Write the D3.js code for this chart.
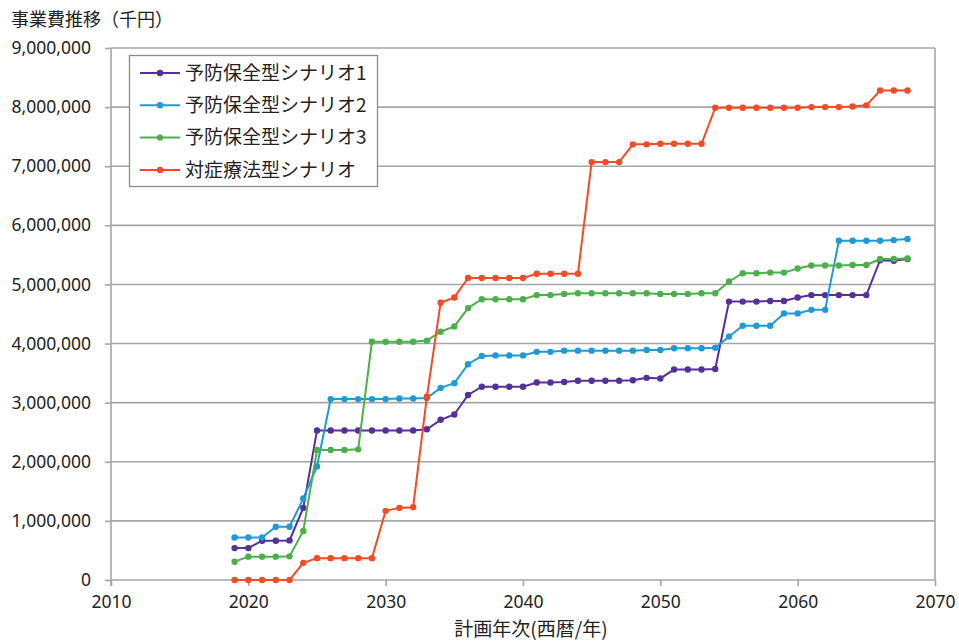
<!DOCTYPE html>
<html>
<head>
<meta charset="utf-8">
<script src="https://cdn.jsdelivr.net/npm/d3@7"></script>
<style>
  html, body { margin: 0; padding: 0; background: #fff; }
  svg { display: block; font-family: "Noto Sans CJK JP", "Noto Sans", sans-serif; }
</style>
</head>
<body>
<svg id="chart" width="959" height="643"></svg>
<script>
// Planning years 2019–2068
const years = d3.range(2019, 2069);

// Annual project cost (thousand yen) per scenario
const scenario1 = [
  540000, 540000, 665000, 665000, 670000, 1220000, 2530000, 2530000, 2530000, 2530000,
  2530000, 2530000, 2530000, 2530000, 2550000, 2710000, 2800000, 3130000, 3270000, 3270000,
  3270000, 3270000, 3340000, 3340000, 3350000, 3370000, 3370000, 3370000, 3370000, 3380000,
  3420000, 3410000, 3560000, 3560000, 3560000, 3570000, 4710000, 4710000, 4710000, 4720000,
  4720000, 4780000, 4820000, 4820000, 4820000, 4820000, 4820000, 5410000, 5400000, 5430000
];
const scenario2 = [
  720000, 720000, 720000, 900000, 900000, 1380000, 1920000, 3060000, 3060000, 3060000,
  3060000, 3060000, 3070000, 3070000, 3080000, 3250000, 3330000, 3650000, 3790000, 3800000,
  3800000, 3800000, 3860000, 3860000, 3880000, 3880000, 3880000, 3880000, 3880000, 3880000,
  3890000, 3890000, 3920000, 3920000, 3920000, 3930000, 4120000, 4300000, 4300000, 4300000,
  4510000, 4510000, 4570000, 4570000, 5740000, 5740000, 5740000, 5740000, 5750000, 5770000
];
const scenario3 = [
  310000, 395000, 395000, 395000, 400000, 830000, 2200000, 2200000, 2200000, 2210000,
  4030000, 4030000, 4030000, 4030000, 4050000, 4200000, 4290000, 4600000, 4750000, 4750000,
  4750000, 4750000, 4820000, 4820000, 4840000, 4850000, 4850000, 4850000, 4850000, 4850000,
  4850000, 4840000, 4840000, 4840000, 4850000, 4850000, 5050000, 5190000, 5190000, 5200000,
  5200000, 5270000, 5320000, 5320000, 5320000, 5330000, 5330000, 5430000, 5430000, 5440000
];
const symptomatic = [
  0, 0, 0, 0, 0, 290000, 370000, 370000, 370000, 370000,
  370000, 1170000, 1220000, 1230000, 3100000, 4690000, 4780000, 5110000, 5110000, 5110000,
  5110000, 5110000, 5180000, 5180000, 5180000, 5180000, 7070000, 7070000, 7070000, 7370000,
  7370000, 7380000, 7380000, 7380000, 7380000, 7990000, 7990000, 7990000, 7990000, 7990000,
  7990000, 7990000, 8000000, 8000000, 8000000, 8010000, 8030000, 8280000, 8280000, 8280000
];

const seriesNames = ["予防保全型シナリオ1", "予防保全型シナリオ2", "予防保全型シナリオ3", "対症療法型シナリオ"];
const seriesColors = ["#55309a", "#1e9ad6", "#4cb04a", "#f24b25"];
const seriesValues = [scenario1, scenario2, scenario3, symptomatic];

const xTicks = [2010, 2020, 2030, 2040, 2050, 2060, 2070];
const yTicks = [0, 1000000, 2000000, 3000000, 4000000, 5000000, 6000000, 7000000, 8000000, 9000000];

const titleText = "事業費推移（千円）";
const xTitleText = "計画年次(西暦/年)";

const svg = d3.select("#chart");
const plot = { left: 111, right: 935, top: 48, bottom: 580 };

const x = d3.scaleLinear().domain([2010, 2070]).range([plot.left, plot.right]);
const y = d3.scaleLinear().domain([0, 9000000]).range([plot.bottom, plot.top]);

const gridColor = "#a6a6a6";

// Horizontal gridlines
svg.append("g")
  .selectAll("line")
  .data(yTicks.filter(d => d > 0))
  .join("line")
  .attr("x1", plot.left).attr("x2", plot.right)
  .attr("y1", d => y(d)).attr("y2", d => y(d))
  .attr("stroke", gridColor).attr("stroke-width", 1.6);

// Right frame edge
svg.append("line")
  .attr("x1", plot.right).attr("x2", plot.right)
  .attr("y1", plot.top).attr("y2", plot.bottom)
  .attr("stroke", gridColor).attr("stroke-width", 1.6);

// Y axis
const yAxis = svg.append("g")
  .attr("transform", `translate(${plot.left},0)`)
  .call(d3.axisLeft(y).tickValues(yTicks).tickSize(6).tickPadding(14).tickFormat(d3.format(",")));
yAxis.select(".domain").attr("stroke", gridColor).attr("stroke-width", 1.6)
  .attr("d", `M0,${plot.top}V${plot.bottom + 6}`);
yAxis.selectAll(".tick line").attr("stroke", gridColor).attr("stroke-width", 1.6);
yAxis.selectAll(".tick text")
  .attr("fill", "#222").attr("font-size", 17.5)
  .attr("font-family", "'Noto Sans', sans-serif");

// X axis
const xAxis = svg.append("g")
  .attr("transform", `translate(0,${plot.bottom})`)
  .call(d3.axisBottom(x).tickValues(xTicks).tickSize(6).tickPadding(10).tickFormat(d3.format("d")));
xAxis.select(".domain").attr("stroke", gridColor).attr("stroke-width", 1.6)
  .attr("d", `M${plot.left},0H${plot.right}`);
xAxis.selectAll(".tick line").attr("stroke", gridColor).attr("stroke-width", 1.6);
xAxis.selectAll(".tick text")
  .attr("fill", "#222").attr("font-size", 17.5)
  .attr("font-family", "'Noto Sans', sans-serif");

// Series lines and markers
const line = d3.line().x((d, i) => x(years[i])).y(d => y(d));
seriesValues.forEach((vals, s) => {
  const g = svg.append("g");
  g.append("path")
    .datum(vals)
    .attr("d", line)
    .attr("fill", "none")
    .attr("stroke", seriesColors[s])
    .attr("stroke-width", 2);
  g.selectAll("circle")
    .data(vals)
    .join("circle")
    .attr("cx", (d, i) => x(years[i]))
    .attr("cy", d => y(d))
    .attr("r", 3.2)
    .attr("fill", seriesColors[s]);
});

// Legend
const legend = svg.append("g");
legend.append("rect")
  .attr("x", 129.5).attr("y", 55.5).attr("width", 248).attr("height", 131)
  .attr("fill", "#fff").attr("stroke", "#8c8c8c").attr("stroke-width", 1.3);
seriesNames.forEach((name, s) => {
  const ly = 73 + s * 32.3;
  legend.append("line")
    .attr("x1", 140).attr("x2", 180).attr("y1", ly).attr("y2", ly)
    .attr("stroke", seriesColors[s]).attr("stroke-width", 2);
  legend.append("circle")
    .attr("cx", 160).attr("cy", ly).attr("r", 3.2).attr("fill", seriesColors[s]);
  legend.append("text")
    .attr("x", 185).attr("y", ly).attr("dy", "0.36em")
    .attr("font-size", 19).attr("fill", "#222")
    .text(name);
});

// Titles
svg.append("text")
  .attr("x", 11).attr("y", 25.5)
  .attr("font-size", 18).attr("fill", "#222")
  .text(titleText);

svg.append("text")
  .attr("x", 531).attr("y", 636)
  .attr("text-anchor", "middle")
  .attr("font-size", 19).attr("fill", "#222")
  .text(xTitleText);
</script>
</body>
</html>
